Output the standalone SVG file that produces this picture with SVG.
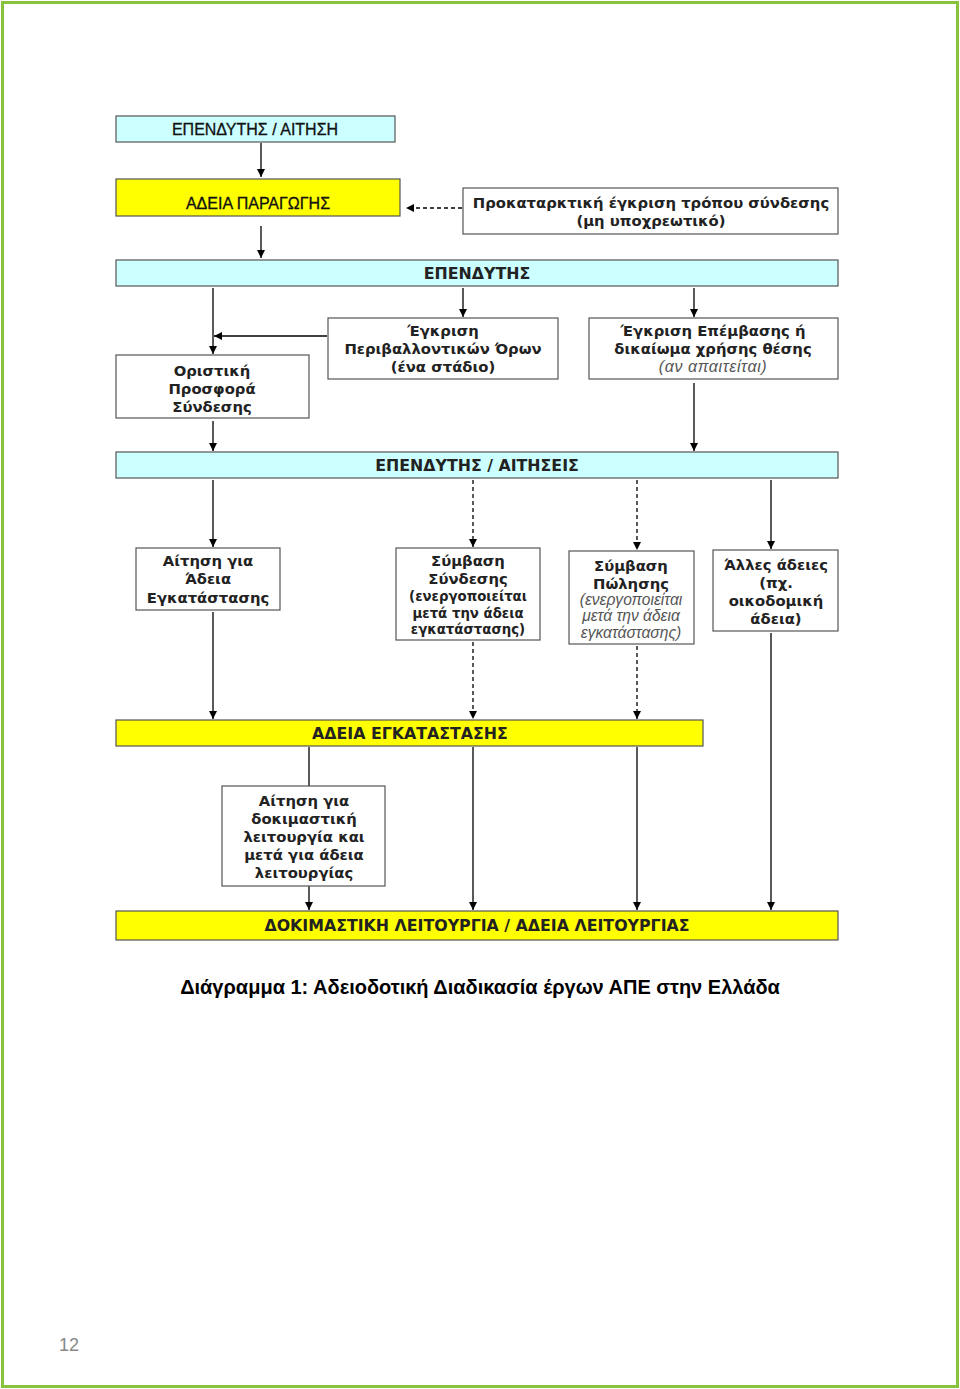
<svg xmlns="http://www.w3.org/2000/svg" width="960" height="1389" viewBox="0 0 960 1389">
<defs>
<marker id="ah" viewBox="0 0 10 10" refX="10" refY="5" markerWidth="8" markerHeight="8" markerUnits="userSpaceOnUse" orient="auto">
<path d="M0,0 L10,5 L0,10 z" fill="#000"/>
</marker>
</defs>
<style>
.box{stroke:#555;stroke-width:1.2}
.cy{fill:#ccffff}
.ye{fill:#ffff00}
.wh{fill:#fff}
.t{font-family:"DejaVu Sans",Verdana,sans-serif;font-weight:bold;font-size:14.8px;fill:#222;text-anchor:middle}
.cap{font-size:15.8px}
.n{font-family:"Liberation Sans",Arial,sans-serif;font-weight:normal;font-size:16px;fill:#111;stroke:#111;stroke-width:0.3}
.s{font-size:13.3px}
.it{font-family:"Liberation Sans",Arial,sans-serif;font-weight:normal;font-style:italic;fill:#555;font-size:15.6px}
.c{stroke:#000;stroke-width:1.3;fill:none}
.d{stroke-dasharray:4,3}
</style>
<rect x="0" y="0" width="960" height="1389" fill="#fff"/>
<rect x="2.5" y="2.5" width="955" height="1384" fill="none" stroke="#86c23a" stroke-width="3"/>

<g id="connectors">
<line class="c" x1="261" y1="143" x2="261" y2="177" marker-end="url(#ah)"/>
<line class="c" x1="261" y1="226" x2="261" y2="258" marker-end="url(#ah)"/>
<line class="c d" x1="462" y1="208" x2="406" y2="208" marker-end="url(#ah)"/>
<line class="c" x1="213" y1="288" x2="213" y2="354" marker-end="url(#ah)"/>
<line class="c" x1="463" y1="288" x2="463" y2="317" marker-end="url(#ah)"/>
<line class="c" x1="694" y1="288" x2="694" y2="317" marker-end="url(#ah)"/>
<line class="c" x1="327" y1="336" x2="214" y2="336" marker-end="url(#ah)"/>
<line class="c" x1="213" y1="421" x2="213" y2="451" marker-end="url(#ah)"/>
<line class="c" x1="694" y1="383" x2="694" y2="451" marker-end="url(#ah)"/>
<line class="c" x1="213" y1="480" x2="213" y2="547" marker-end="url(#ah)"/>
<line class="c d" x1="473" y1="480" x2="473" y2="547" marker-end="url(#ah)"/>
<line class="c d" x1="637" y1="480" x2="637" y2="550" marker-end="url(#ah)"/>
<line class="c" x1="771" y1="480" x2="771" y2="549" marker-end="url(#ah)"/>
<line class="c" x1="213" y1="612" x2="213" y2="719" marker-end="url(#ah)"/>
<line class="c d" x1="473" y1="642" x2="473" y2="719" marker-end="url(#ah)"/>
<line class="c d" x1="637" y1="646" x2="637" y2="719" marker-end="url(#ah)"/>
<line class="c" x1="771" y1="633" x2="771" y2="910" marker-end="url(#ah)"/>
<line class="c" x1="309" y1="747" x2="309" y2="786" stroke-width="1"/>
<line class="c" x1="473" y1="747" x2="473" y2="910" marker-end="url(#ah)"/>
<line class="c" x1="637" y1="747" x2="637" y2="910" marker-end="url(#ah)"/>
<line class="c" x1="309" y1="886" x2="309" y2="910" marker-end="url(#ah)"/>
</g>

<g id="n1"><rect class="box cy" x="116" y="116" width="279" height="26"/>
<text class="n" x="255" y="135" text-anchor="middle">ΕΠΕΝΔΥΤΗΣ / ΑΙΤΗΣΗ</text></g>

<g id="n2"><rect class="box ye" x="116" y="179" width="284" height="37"/>
<text class="n" x="258" y="209" text-anchor="middle">ΑΔΕΙΑ ΠΑΡΑΓΩΓΗΣ</text></g>

<g id="n3"><rect class="box wh" x="463" y="188" width="375" height="46"/>
<text class="t" x="651" y="208">Προκαταρκτική έγκριση τρόπου σύνδεσης</text>
<text class="t" x="651" y="226">(μη υποχρεωτικό)</text></g>

<g id="n4"><rect class="box cy" x="116" y="260" width="722" height="26"/>
<text class="t cap" x="477" y="279">ΕΠΕΝΔΥΤΗΣ</text></g>

<g id="n5"><rect class="box wh" x="116" y="355" width="193" height="63"/>
<text class="t" x="212" y="376">Οριστική</text>
<text class="t" x="212" y="394">Προσφορά</text>
<text class="t" x="212" y="412">Σύνδεσης</text></g>

<g id="n6"><rect class="box wh" x="328" y="318" width="230" height="61"/>
<text class="t" x="443" y="336">Έγκριση</text>
<text class="t" x="443" y="354">Περιβαλλοντικών Όρων</text>
<text class="t" x="443" y="372">(ένα στάδιο)</text></g>

<g id="n7"><rect class="box wh" x="589" y="318" width="249" height="61"/>
<text class="t" x="713" y="336">Έγκριση Επέμβασης ή</text>
<text class="t" x="713" y="354">δικαίωμα χρήσης θέσης</text>
<text class="t it" x="713" y="372" style="font-size:16px" letter-spacing="0.6">(αν απαιτείται)</text></g>

<g id="n8"><rect class="box cy" x="116" y="452" width="722" height="26"/>
<text class="t cap" x="477" y="471">ΕΠΕΝΔΥΤΗΣ / ΑΙΤΗΣΕΙΣ</text></g>

<g id="n9"><rect class="box wh" x="136" y="548" width="144" height="62"/>
<text class="t" x="208" y="566">Αίτηση για</text>
<text class="t" x="208" y="584">Άδεια</text>
<text class="t" x="208" y="603">Εγκατάστασης</text></g>

<g id="n10"><rect class="box wh" x="396" y="548" width="144" height="92"/>
<text class="t" x="468" y="566">Σύμβαση</text>
<text class="t" x="468" y="584">Σύνδεσης</text>
<text class="t s" x="468" y="601">(ενεργοποιείται</text>
<text class="t s" x="468" y="618">μετά την άδεια</text>
<text class="t s" x="468" y="634">εγκατάστασης)</text></g>

<g id="n11"><rect class="box wh" x="569" y="551" width="125" height="93"/>
<text class="t" x="631" y="571">Σύμβαση</text>
<text class="t" x="631" y="589">Πώλησης</text>
<text class="t it" x="631" y="605">(ενεργοποιείται</text>
<text class="t it" x="631" y="621">μετά την άδεια</text>
<text class="t it" x="631" y="638">εγκατάστασης)</text></g>

<g id="n12"><rect class="box wh" x="713" y="550" width="125" height="81"/>
<text class="t" x="776" y="570">Άλλες άδειες</text>
<text class="t" x="776" y="588">(πχ.</text>
<text class="t" x="776" y="606">οικοδομική</text>
<text class="t" x="776" y="624">άδεια)</text></g>

<g id="n13"><rect class="box ye" x="116" y="720" width="587" height="26"/>
<text class="t cap" x="410" y="739">ΑΔΕΙΑ ΕΓΚΑΤΑΣΤΑΣΗΣ</text></g>

<g id="n14"><rect class="box wh" x="222" y="786" width="163" height="100"/>
<text class="t" x="304" y="806">Αίτηση για</text>
<text class="t" x="304" y="824">δοκιμαστική</text>
<text class="t" x="304" y="842">λειτουργία και</text>
<text class="t" x="304" y="860">μετά για άδεια</text>
<text class="t" x="304" y="878">λειτουργίας</text></g>

<g id="n15"><rect class="box ye" x="116" y="911" width="722" height="29"/>
<text class="t cap" x="477" y="931">ΔΟΚΙΜΑΣΤΙΚΗ ΛΕΙΤΟΥΡΓΙΑ / ΑΔΕΙΑ ΛΕΙΤΟΥΡΓΙΑΣ</text></g>

<text x="480" y="994" style="font-family:'Liberation Sans',Arial,sans-serif;font-weight:bold;font-size:20px;fill:#000;text-anchor:middle">Διάγραμμα 1: Αδειοδοτική Διαδικασία έργων ΑΠΕ στην Ελλάδα</text>
<text x="69" y="1351" style="font-family:'Liberation Sans',Arial,sans-serif;font-size:18px;fill:#888;text-anchor:middle">12</text>
</svg>
